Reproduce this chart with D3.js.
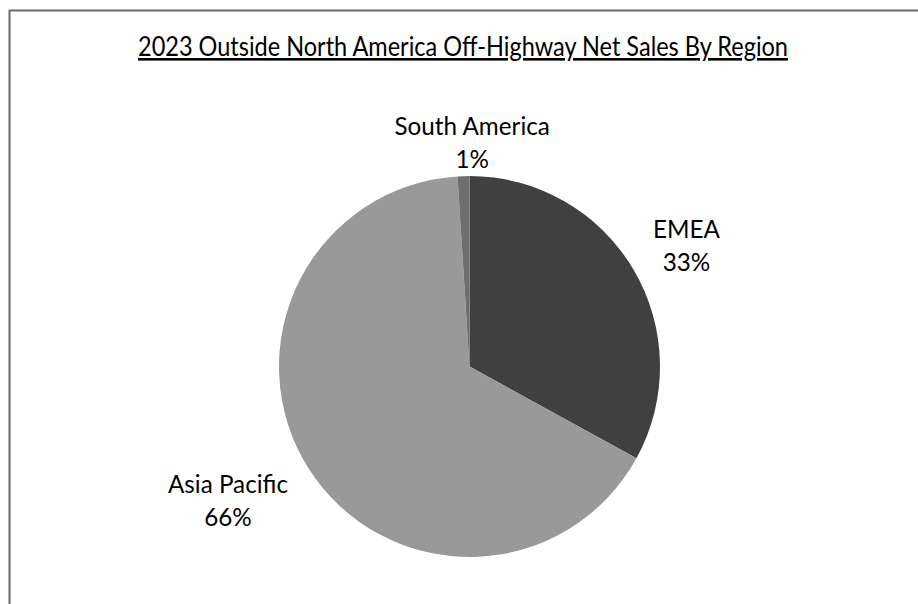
<!DOCTYPE html>
<html><head><meta charset="utf-8">
<script src="https://cdn.jsdelivr.net/npm/d3@7"></script>
<style>body{margin:0;background:#fff}svg{display:block}text{font-family:Lato,"Open Sans",sans-serif;fill:#000}</style>
</head><body>
<svg id="c" width="918" height="604"></svg>
<script>
const title = "2023 Outside North America Off-Highway Net Sales By Region";
const regions = ["EMEA", "Asia Pacific", "South America"];
const shares = [33, 66, 1];
const colors = ["#404040", "#999999", "#6e6e6e"];

const svg = d3.select("#c");
svg.append("rect").attr("x", 9.5).attr("y", 10.5).attr("width", 940).attr("height", 640)
  .attr("fill", "#fff").attr("stroke", "#6a6a6a").attr("stroke-width", 2);

const t = svg.append("text").attr("x", 463).attr("y", 56).attr("text-anchor", "middle")
  .attr("font-size", 26).attr("text-decoration", "underline").text(title);
t.attr("textLength", 650).attr("lengthAdjust", "spacingAndGlyphs");

const cx = 469.5, cy = 366.5, R = 190.5;
const data = regions.map((r, i) => ({ region: r, value: shares[i], color: colors[i] }));
const pie = d3.pie().sort(null).value(d => d.value);
const arcs = pie(data);
const arc = d3.arc().innerRadius(0).outerRadius(R);
const g = svg.append("g").attr("transform", `translate(${cx},${cy})`);
g.selectAll("path").data(arcs).join("path").attr("d", arc).attr("fill", d => d.data.color);

const lineH = 33, fs = 25, squeeze = 0.97, capH = 0.72 * fs, skew = 2.5 * Math.PI / 180, lift = 5;
arcs.forEach(a => {
  const mid = (a.startAngle + a.endAngle) / 2 + skew;
  const dx = Math.sin(mid), dy = -Math.cos(mid);
  const lg = g.append("g");
  const lines = [a.data.region, d3.format(".0f")(a.data.value) + "%"];
  let w = 0;
  lines.forEach((s, i) => {
    const tx = lg.append("text").attr("text-anchor", "middle").attr("font-size", fs)
      .attr("y", i * lineH).text(s);
    const L = tx.node().getComputedTextLength() * squeeze;
    tx.attr("textLength", L).attr("lengthAdjust", "spacingAndGlyphs");
    w = Math.max(w, L);
  });
  const h = lineH + capH;
  const d = R + 1.5 + 0.71 * Math.abs(dx) * w + Math.abs(dy) * h / 2;
  const icy = (lineH - capH) / 2;
  lg.attr("transform", `translate(${dx * d},${dy * d - icy - lift})`);
});
</script>
</body></html>
